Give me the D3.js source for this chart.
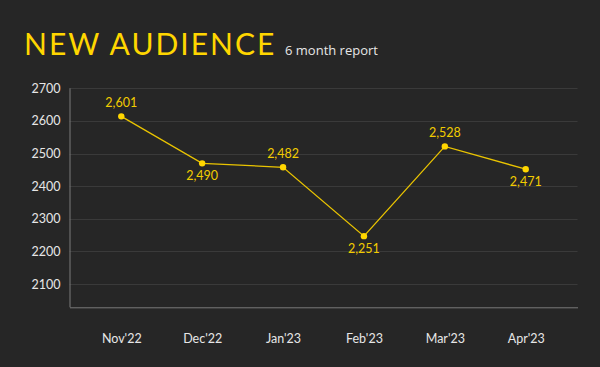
<!DOCTYPE html>
<html>
<head>
<meta charset="utf-8">
<script src="https://cdn.jsdelivr.net/npm/d3@7"></script>
<style>
  html, body { margin: 0; padding: 0; background: #262626; }
  svg { display: block; }
</style>
</head>
<body>
<svg id="chart" width="600" height="367"></svg>
<script>
const months = ["Nov'22", "Dec'22", "Jan'23", "Feb'23", "Mar'23", "Apr'23"];
const values = [2614, 2470, 2458, 2247, 2522, 2452];
const valueLabels = ["2,601", "2,490", "2,482", "2,251", "2,528", "2,471"];
const labelSide = ["above", "below", "above", "below", "above", "below"];
const yTicks = [2100, 2200, 2300, 2400, 2500, 2600, 2700];

const W = 600, H = 367;
const margin = { left: 69.5, right: 22.5, top: 88.3, bottom: 59.7 };
const svg = d3.select("#chart");
svg.append("rect").attr("width", W).attr("height", H).attr("fill", "#262626");

const x = d3.scalePoint().domain(months)
  .range([margin.left, W - margin.right]).padding(0.64);
const y = d3.scaleLinear().domain([2029, 2700])
  .range([H - margin.bottom, margin.top]);

// title
svg.append("text").attr("x", 24).attr("y", 55)
  .attr("font-family", "Lato").attr("font-weight", 400).attr("font-size", 30)
  .attr("letter-spacing", 2.0)
  .attr("fill", "#ffd600").text("NEW AUDIENCE");
svg.append("text").attr("x", 285).attr("y", 55)
  .attr("font-family", "Open Sans").attr("font-size", 13)
  .attr("fill", "#e6e6e6").text("6 month report");

// gridlines
const grid = svg.append("g");
grid.selectAll("line").data(yTicks).join("line")
  .attr("x1", margin.left).attr("x2", W - margin.right)
  .attr("y1", d => Math.round(y(d)) + 0.5).attr("y2", d => Math.round(y(d)) + 0.5)
  .attr("stroke", "#3a3a3a").attr("stroke-width", 1);

// y axis
const yAxis = svg.append("g").attr("transform", `translate(${margin.left},0)`)
  .call(d3.axisLeft(y).tickValues(yTicks).tickSize(0).tickPadding(9).tickFormat(d3.format("d")));
yAxis.select(".domain").remove();
yAxis.selectAll("text").attr("font-family", "Lato").attr("font-size", 12.5).attr("fill", "#e6e6e6");
svg.append("line").attr("x1", margin.left + 0.5).attr("x2", margin.left + 0.5)
  .attr("y1", margin.top).attr("y2", H - margin.bottom)
  .attr("stroke", "#7a7a7a").attr("stroke-width", 1);

// x axis
const xAxis = svg.append("g").attr("transform", `translate(0,${H - margin.bottom})`)
  .call(d3.axisBottom(x).tickSize(0).tickPadding(27));
xAxis.select(".domain").attr("stroke", "#7a7a7a");
xAxis.selectAll("text").attr("font-family", "Lato").attr("font-size", 12.5).attr("fill", "#e6e6e6");

// line
const pts = months.map((m, i) => ({ m, v: values[i], label: valueLabels[i], side: labelSide[i] }));
svg.append("path").datum(pts)
  .attr("fill", "none").attr("stroke", "#eac400").attr("stroke-width", 1.3)
  .attr("d", d3.line().x(d => x(d.m)).y(d => y(d.v)));
svg.selectAll("circle.pt").data(pts).join("circle").attr("class", "pt")
  .attr("cx", d => x(d.m)).attr("cy", d => y(d.v)).attr("r", 3.2)
  .attr("fill", "#ffd600");
svg.selectAll("text.lbl").data(pts).join("text").attr("class", "lbl")
  .attr("x", d => x(d.m))
  .attr("y", d => d.side === "above" ? y(d.v) - 9 : y(d.v) + 16.5)
  .attr("text-anchor", "middle")
  .attr("font-family", "Lato").attr("font-size", 12.5).attr("fill", "#f2cc00")
  .text(d => d.label);
</script>
</body>
</html>
